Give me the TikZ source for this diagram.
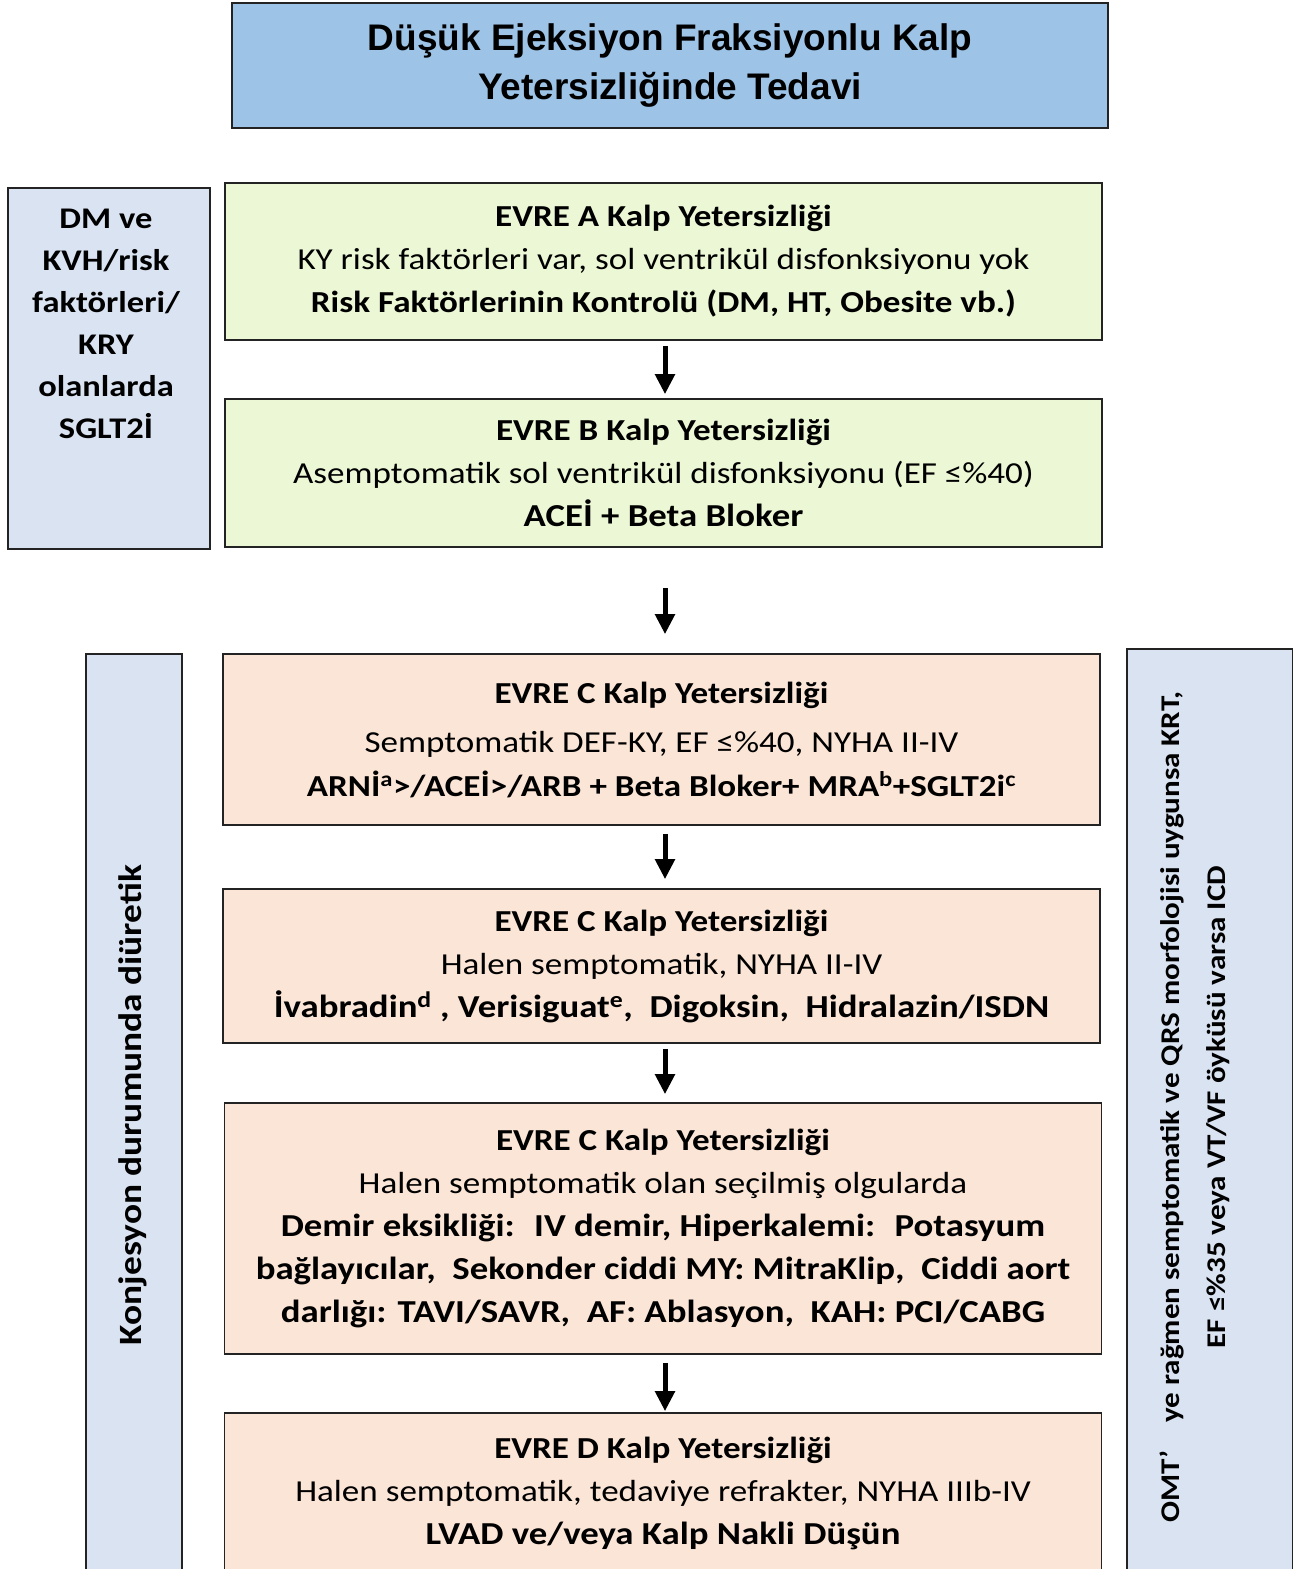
\documentclass[tikz,border=0pt]{standalone}
\usepackage{fontspec}
\setmainfont{Carlito}[FakeStretch=1.15]
\newfontfamily\titlefont{Liberation Sans}
\usetikzlibrary{arrows.meta}
\definecolor{titleblue}{RGB}{157,195,230}
\definecolor{sideblue}{RGB}{218,227,241}
\definecolor{stagegreen}{RGB}{236,247,214}
\definecolor{stagepeach}{RGB}{251,229,214}
\definecolor{edgegray}{RGB}{35,35,35}
\tikzset{
  stagebox/.style={draw=edgegray, line width=1.6pt, minimum width=877pt, inner sep=0pt, align=center, font=\fontsize{30.5}{43}\selectfont},
  greenbox/.style={stagebox, fill=stagegreen},
  peachbox/.style={stagebox, fill=stagepeach},
  sidebox/.style={draw=edgegray, line width=1.6pt, fill=sideblue, inner sep=0pt},
  sidetext/.style={align=center, font=\fontsize{30}{42}\selectfont\bfseries},
  arr/.style={line width=5pt, -{Triangle[length=20pt,width=19pt]}},
}
\newcommand{\bigb}[1]{{\fontsize{32}{45}\selectfont\bfseries #1}}
\begin{document}
\begin{tikzpicture}[x=1pt,y=-1pt]
\useasboundingbox (0,0) rectangle (1293,1569);
\clip (0,0) rectangle (1293,1569);
\fill[white] (0,0) rectangle (1293,1569);

% title
\node (title) [draw=edgegray, line width=2.2pt, fill=titleblue, minimum width=876pt, minimum height=125pt, inner sep=0pt, align=center,
  font=\titlefont\bfseries\fontsize{37}{49}\selectfont] at (670,65.5)
  {Düşük Ejeksiyon Fraksiyonlu Kalp\\Yetersizliğinde Tedavi};

% left top side box
\node (sglt) [sidebox, minimum width=202pt, minimum height=361pt] at (109,368.5) {};
\node (sglttxt) [sidetext] at (106,324) {DM ve\\KVH/risk\\faktörleri/\\KRY\\olanlarda\\SGLT2İ};

% stage A
\node (A) [greenbox, minimum height=157pt] at (663.5,261.5)
  {\textbf{EVRE A Kalp Yetersizliği}\\KY risk faktörleri var, sol ventrikül disfonksiyonu yok\\\textbf{Risk Faktörlerinin Kontrolü (DM, HT, Obesite vb.)}};

% stage B
\node (B) [greenbox, minimum height=148pt] at (663.5,473)
  {\textbf{EVRE B Kalp Yetersizliği}\\Asemptomatik sol ventrikül disfonksiyonu (EF ≤\%40)\\\bigb{ACEİ + Beta Bloker}};

% stage C1
\node (C1) [peachbox, minimum height=171pt] at (661.5,739.5)
  {\textbf{EVRE C Kalp Yetersizliği}\\[6pt]Semptomatik DEF-KY, EF ≤\%40, NYHA II-IV\\[1pt]\textbf{ARNİ\textsuperscript{a}>/ACEİ>/ARB + Beta Bloker+ MRA\textsuperscript{b}+SGLT2i\textsuperscript{c}}};

% stage C2
\node (C2) [peachbox, minimum height=154pt] at (661.5,966)
  {\textbf{EVRE C Kalp Yetersizliği}\\Halen semptomatik, NYHA II-IV\\\bigb{İvabradin\textsuperscript{d} , Verisiguat\textsuperscript{e}, \ Digoksin, \ Hidralazin/ISDN}};

% stage C3
\node (C3) [peachbox, minimum height=251pt] at (663,1228.5)
  {\textbf{EVRE C Kalp Yetersizliği}\\Halen semptomatik olan seçilmiş olgularda\\
   \bigb{Demir eksikliği: \ IV demir, Hiperkalemi: \ Potasyum}\\
   \bigb{bağlayıcılar, \ Sekonder ciddi MY: MitraKlip, \ Ciddi aort}\\
   \bigb{darlığı: TAVI/SAVR, \ AF: Ablasyon, \ KAH: PCI/CABG}};

% stage D
\node (D) [peachbox, minimum height=160pt] at (663,1493)
  {\textbf{EVRE D Kalp Yetersizliği}\\Halen semptomatik, tedaviye refrakter, NYHA IIIb-IV\\\bigb{LVAD ve/veya Kalp Nakli Düşün}};

% lower side boxes
\node (diur) [sidebox, minimum width=96pt, minimum height=940pt] at (134,1124) {};
\node (diurtxt) [sidetext, rotate=90, font=\fontsize{32.5}{42}\selectfont\bfseries] at (133,1105) {Konjesyon durumunda diüretik};

\node (icd) [sidebox, minimum width=166pt, minimum height=940pt] at (1210,1119) {};
\node (icdtxt) [sidetext, rotate=90, font=\fontsize{27}{46}\selectfont\bfseries] at (1195,1107)
  {OMT’\ \ \ \ ye rağmen semptomatik ve QRS morfolojisi uygunsa KRT,\\EF ≤\%35 veya VT/VF öyküsü varsa ICD};

% arrows
\draw[arr, shorten <=5pt, shorten >=4pt] ([xshift=1.5pt]A.south) -- ([xshift=1.5pt]B.north);
\draw[arr, shorten <=40pt, shorten >=19pt] ([xshift=1.5pt]B.south) -- ([xshift=3.5pt]C1.north);
\draw[arr, shorten <=8pt, shorten >=9pt] ([xshift=3.5pt]C1.south) -- ([xshift=3.5pt]C2.north);
\draw[arr, shorten <=5pt, shorten >=8pt] ([xshift=3.5pt]C2.south) -- ([xshift=2pt]C3.north);
\draw[arr, shorten <=8pt, shorten >=1pt] ([xshift=2pt]C3.south) -- ([xshift=2pt]D.north);
\end{tikzpicture}
\end{document}
